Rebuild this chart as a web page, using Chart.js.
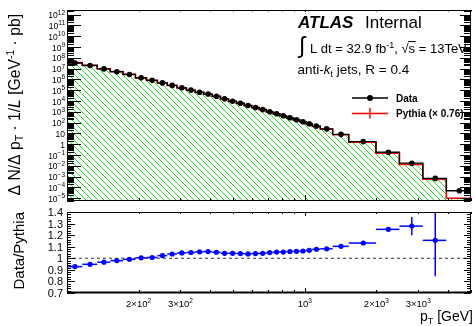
<!DOCTYPE html>
<html>
<head>
<meta charset="utf-8">
<script src="https://cdn.jsdelivr.net/npm/chart.js@4.4.1/dist/chart.umd.min.js"></script>
<style>
  html, body { margin: 0; padding: 0; background: #fff; }
  #wrap { position: relative; width: 475px; height: 326px; overflow: hidden; background: #fff; }
  canvas { position: absolute; left: 0; }
  #spectrum { top: 0; }
  #ratio { top: 205px; }
</style>
</head>
<body>
<div id="wrap">
  <canvas id="spectrum" width="475" height="205"></canvas>
  <canvas id="ratio" width="475" height="121"></canvas>
</div>
<script>
// Jet pT bin edges [GeV]
const binEdges = [100, 116, 134, 152, 172, 194, 216, 240, 264, 290, 318, 346, 376, 408, 442,
  478, 516, 556, 598, 642, 688, 736, 786, 838, 894, 952, 1012, 1076, 1162, 1310, 1530,
  1992, 2500, 3137, 3937, 5000];

// Measured spectrum, dN/dpT / L [pb/GeV]
const dataXsec = [3.33e7, 1.96e7, 9.53e6, 5.26e6, 2.90e6, 1.41e6, 8.32e5, 4.79e5, 2.82e5,
  1.69e5, 1.04e5, 6.53e4, 4.46e4, 2.80e4, 1.61e4, 9.68e3, 6.34e3, 3.89e3, 2.55e3, 1.67e3,
  1.02e3, 670, 439, 287, 187, 123, 80.4, 48.3, 26.7, 8.32, 1.77, 0.183, 0.0178, 6.93e-4, 5.0e-5];

// Pythia prediction, scaled by pythiaScale [pb/GeV]
const pythiaXsec = [3.59e7, 2.07e7, 9.87e6, 5.37e6, 2.93e6, 1.40e6, 8.26e5, 4.68e5, 2.72e5,
  1.62e5, 9.90e4, 6.18e4, 4.22e4, 2.66e4, 1.54e4, 9.28e3, 6.09e3, 3.75e3, 2.45e3, 1.60e3,
  972, 636, 417, 271, 176, 116, 75.2, 44.8, 24.7, 7.54, 1.56, 0.146, 0.0139, 6.0e-4, 1.0e-5];
const pythiaScale = 0.76;

// Data / Pythia ratio and its uncertainty (first 34 bins)
const ratioVals = [0.928, 0.948, 0.966, 0.980, 0.991, 1.004, 1.007, 1.023, 1.037, 1.046, 1.050,
  1.056, 1.058, 1.052, 1.043, 1.043, 1.041, 1.038, 1.041, 1.043, 1.049, 1.054, 1.054, 1.058,
  1.060, 1.063, 1.069, 1.078, 1.082, 1.103, 1.132, 1.250, 1.278, 1.155];
const ratioErr = [0.003, 0.003, 0.003, 0.003, 0.003, 0.003, 0.003, 0.003, 0.003, 0.003, 0.003,
  0.003, 0.003, 0.003, 0.003, 0.003, 0.003, 0.003, 0.003, 0.003, 0.003, 0.003, 0.003, 0.003,
  0.003, 0.004, 0.004, 0.004, 0.004, 0.005, 0.008, 0.020, 0.078, 0.310];

// Axis tick labels
const xTickLabels = [[200, '2', 2], [300, '3', 2], [1000, '', 3], [2000, '2', 3], [3000, '3', 3]];
const ySpecExponents = [-5, -4, -3, -2, -1, 0, 1, 2, 3, 4, 5, 6, 7, 8, 9, 10, 11, 12];
const yRatioTicks = [0.7, 0.8, 0.9, 1.0, 1.1, 1.2, 1.3, 1.4];

const X_MIN = 100, X_MAX = 5000;
const SPEC_MIN = Math.pow(10, -5.25), SPEC_MAX = Math.pow(10, 12.43);
const RATIO_MIN = 0.7, RATIO_MAX = 1.4;

const FAM = "'Liberation Sans', Arial, Helvetica, sans-serif";
const fnt = (size, weight, style) => `${style || 'normal'} ${weight || 'normal'} ${size}px ${FAM}`;

// Draw a run of text pieces (for super/subscripts, italics)
function drawRich(ctx, parts, x, y, align) {
  let w = 0;
  for (const p of parts) {
    ctx.font = fnt(p.size, p.weight, p.style);
    p.w = ctx.measureText(p.t).width;
    w += p.w + (p.dx || 0);
  }
  let cx = align === 'right' ? x - w : align === 'center' ? x - w / 2 : x;
  ctx.textAlign = 'left';
  ctx.textBaseline = 'alphabetic';
  for (const p of parts) {
    ctx.font = fnt(p.size, p.weight, p.style);
    cx += (p.dx || 0);
    ctx.fillText(p.t, cx, y + (p.dy || 0));
    cx += p.w;
  }
  return w;
}

const binCenter = i => 0.5 * (binEdges[i] + binEdges[i + 1]);

// Step outline of a histogram, starting from the bottom of the axis
function stepPoints(values, floor) {
  const pts = [{ x: binEdges[0], y: floor }];
  values.forEach((v, i) => {
    pts.push({ x: binEdges[i], y: v });
    pts.push({ x: binEdges[i + 1], y: v });
  });
  return pts;
}

function hatchPattern(ctx) {
  const s = 6;
  const c = document.createElement('canvas');
  c.width = s; c.height = s;
  const g = c.getContext('2d');
  g.strokeStyle = '#1fe01f';
  g.lineWidth = 1;
  g.beginPath();
  g.moveTo(0, 0); g.lineTo(s, s);
  g.moveTo(-1, s - 1); g.lineTo(1, s + 1);
  g.moveTo(s - 1, -1); g.lineTo(s + 1, 1);
  g.stroke();
  return ctx.createPattern(c, 'repeat');
}

function logTickList(min, max) {
  const out = [];
  for (let e = Math.floor(Math.log10(min)); e <= Math.ceil(Math.log10(max)); e++) {
    for (let m = 1; m < 10; m++) {
      const v = m * Math.pow(10, e);
      if (v >= min * 0.9999 && v <= max * 1.0001) out.push({ v, major: m === 1 });
    }
  }
  return out;
}

function line(ctx, x1, y1, x2, y2) {
  ctx.beginPath(); ctx.moveTo(x1, y1); ctx.lineTo(x2, y2); ctx.stroke();
}

function drawXTicks(ctx, xs, area, topLen, botLen) {
  ctx.strokeStyle = '#000';
  ctx.lineWidth = 1;
  for (const t of logTickList(X_MIN, X_MAX)) {
    const px = Math.round(xs.getPixelForValue(t.v)) + 0.5;
    const [lt, lb] = t.major ? [topLen[0], botLen[0]] : [topLen[1], botLen[1]];
    line(ctx, px, area.bottom, px, area.bottom - lb);
    line(ctx, px, area.top, px, area.top + lt);
  }
}

function frame(ctx, area, w) {
  ctx.strokeStyle = '#000';
  ctx.lineWidth = w || 1;
  ctx.strokeRect(Math.round(area.left) + 0.5, Math.round(area.top) + 0.5,
    Math.round(area.right - area.left) - 1, Math.round(area.bottom - area.top) - 1);
}

// Axes, frame, titles and legend for the spectrum panel
const spectrumDecor = {
  id: 'spectrumDecor',
  afterDraw(chart) {
    const ctx = chart.ctx, a = chart.chartArea;
    const xs = chart.scales.x, ys = chart.scales.y;
    ctx.save();
    // y ticks: inward on both sides
    ctx.strokeStyle = '#000';
    ctx.lineWidth = 1;
    for (const t of logTickList(SPEC_MIN, SPEC_MAX)) {
      const py = Math.round(ys.getPixelForValue(t.v)) + 0.5;
      line(ctx, a.left, py, a.left + (t.major ? 14 : 7), py);
      line(ctx, a.right, py, a.right - (t.major ? 11 : 7), py);
    }
    drawXTicks(ctx, xs, a, [2, 1.5], [6, 3]);
    frame(ctx, a, 1);

    // y tick labels 10^n
    ctx.fillStyle = '#000';
    for (const e of ySpecExponents) {
      const py = ys.getPixelForValue(Math.pow(10, e));
      let parts;
      if (e === 0) parts = [{ t: '1', size: 8.5 }];
      else if (e === 1) parts = [{ t: '10', size: 8.5 }];
      else parts = [{ t: '10', size: 8.5 }, { t: String(e).replace('-', '\u2212'), size: 6.5, dy: -3.5 }];
      drawRich(ctx, parts, 65, py + 3.5, 'right');
    }

    // y title, rotated
    ctx.save();
    ctx.translate(19.5, 14);
    ctx.rotate(-Math.PI / 2);
    drawRich(ctx, [
      { t: '\u0394 N/\u0394 p', size: 15.7 },
      { t: 'T', size: 10.5, dy: 3 },
      { t: ' \u00b7 1/', size: 15.7 },
      { t: 'L', size: 15.7, style: 'italic' },
      { t: ' [GeV', size: 15.7 },
      { t: '-1', size: 10.5, dy: -6 },
      { t: ' \u00b7 pb]', size: 15.7 }
    ], 0, 0, 'right');
    ctx.restore();

    // ATLAS label
    drawRich(ctx, [{ t: 'ATLAS', size: 17, weight: 'bold', style: 'italic' }], 298, 27.5);
    drawRich(ctx, [{ t: 'Internal', size: 17 }], 365, 27.5);

    // luminosity and energy
    ctx.font = fnt(23);
    ctx.fillText('\u222b', 299, 53);
    const wLum = drawRich(ctx, [
      { t: 'L dt = 32.9 fb', size: 13 },
      { t: '-1', size: 9, dy: -5 },
      { t: ', ', size: 13 }
    ], 310, 52.5);
    const sx = 310 + wLum;
    ctx.font = fnt(13);
    ctx.fillText('\u221a', sx, 52.5);
    const wr = ctx.measureText('\u221a').width;
    ctx.fillText('s', sx + wr, 52.5);
    const ws = ctx.measureText('s').width;
    ctx.lineWidth = 1;
    line(ctx, sx + wr - 0.5, 41.5, sx + wr + ws + 0.5, 41.5);
    drawRich(ctx, [{ t: ' = 13TeV', size: 13 }], sx + wr + ws, 52.5);

    // jet definition
    drawRich(ctx, [
      { t: 'anti-', size: 13.5 },
      { t: 'k', size: 13.5, style: 'italic' },
      { t: 't', size: 9, dy: 3 },
      { t: ' jets, R = 0.4', size: 13.5 }
    ], 297.5, 73.5);

    // legend
    ctx.strokeStyle = '#000';
    ctx.lineWidth = 1.5;
    line(ctx, 352, 98, 388, 98);
    ctx.fillStyle = '#000';
    ctx.beginPath(); ctx.arc(370, 98, 3, 0, Math.PI * 2); ctx.fill();
    ctx.strokeStyle = '#ff0000';
    line(ctx, 352, 113.5, 388, 113.5);
    line(ctx, 370, 108, 370, 118.5);
    ctx.fillStyle = '#000';
    drawRich(ctx, [{ t: 'Data', size: 10, weight: 'bold' }], 396, 101.5);
    drawRich(ctx, [{ t: 'Pythia (\u00d7 ' + pythiaScale.toFixed(2) + ')', size: 10, weight: 'bold' }], 396, 116.5);
    ctx.restore();
  }
};

// Axes, frame, error bars and titles for the ratio panel
const ratioDecor = {
  id: 'ratioDecor',
  afterDatasetsDraw(chart) {
    const ctx = chart.ctx, a = chart.chartArea;
    const xs = chart.scales.x, ys = chart.scales.y;
    ctx.save();
    ctx.beginPath();
    ctx.rect(a.left, a.top, a.right - a.left, a.bottom - a.top);
    ctx.clip();
    ctx.strokeStyle = '#0000ff';
    ctx.lineWidth = 1.5;
    ratioVals.forEach((r, i) => {
      const py = ys.getPixelForValue(r);
      const cx = xs.getPixelForValue(binCenter(i));
      line(ctx, xs.getPixelForValue(binEdges[i]), py, xs.getPixelForValue(binEdges[i + 1]), py);
      line(ctx, cx, ys.getPixelForValue(r - ratioErr[i]), cx, ys.getPixelForValue(r + ratioErr[i]));
    });
    ctx.restore();
  },
  afterDraw(chart) {
    const ctx = chart.ctx, a = chart.chartArea;
    const xs = chart.scales.x, ys = chart.scales.y;
    ctx.save();
    ctx.strokeStyle = '#000';
    ctx.lineWidth = 1;
    for (let k = 0; k <= 35; k++) {
      const v = RATIO_MIN + k * 0.02;
      const major = k % 5 === 0;
      const py = Math.round(ys.getPixelForValue(v)) + 0.5;
      line(ctx, a.left, py, a.left + (major ? 8 : 4), py);
      line(ctx, a.right, py, a.right - (major ? 7 : 4), py);
    }
    drawXTicks(ctx, xs, a, [4, 2], [5, 3]);
    frame(ctx, a, 1);
    ctx.lineWidth = 2;
    line(ctx, a.left, a.bottom - 0.5, a.right, a.bottom - 0.5);

    ctx.fillStyle = '#000';
    for (const v of yRatioTicks) {
      const py = ys.getPixelForValue(v);
      const txt = Number.isInteger(v) ? String(v) : v.toFixed(1);
      drawRich(ctx, [{ t: txt, size: 11 }], 63, py + 4, 'right');
    }
    for (const [v, m, e] of xTickLabels) {
      const px = xs.getPixelForValue(v);
      const parts = [];
      if (m) parts.push({ t: m + '\u00d7', size: 9.5 });
      parts.push({ t: '10', size: 9.5 });
      parts.push({ t: String(e), size: 6.5, dy: -4 });
      drawRich(ctx, parts, px, 101.5, 'center');
    }

    ctx.save();
    ctx.translate(24, 7);
    ctx.rotate(-Math.PI / 2);
    drawRich(ctx, [{ t: 'Data/Pythia', size: 15 }], 0, 0, 'right');
    ctx.restore();

    drawRich(ctx, [
      { t: 'p', size: 14 },
      { t: 'T', size: 9, dy: 3 },
      { t: ' [GeV]', size: 14 }
    ], 473, 115.5, 'right');
    ctx.restore();
  }
};

const specCtx = document.getElementById('spectrum').getContext('2d');
new Chart(specCtx, {
  type: 'line',
  data: {
    datasets: [
      {
        label: 'Data',
        data: dataXsec.map((v, i) => ({ x: binCenter(i), y: v })),
        showLine: false,
        pointRadius: 2.8,
        pointBackgroundColor: '#000',
        pointBorderWidth: 0,
        order: 0
      },
      {
        label: 'Data hist',
        data: stepPoints(dataXsec, SPEC_MIN),
        borderColor: '#000',
        borderWidth: 1.3,
        pointRadius: 0,
        fill: false,
        order: 1
      },
      {
        label: 'Pythia',
        data: stepPoints(pythiaXsec, SPEC_MIN),
        borderColor: '#ff0000',
        borderWidth: 1.6,
        pointRadius: 0,
        fill: 'start',
        backgroundColor: hatchPattern(specCtx),
        order: 2
      }
    ]
  },
  options: {
    responsive: false,
    animation: false,
    layout: { padding: { left: 67, right: 2, top: 10, bottom: 3 } },
    plugins: { legend: { display: false }, tooltip: { enabled: false } },
    scales: {
      x: { type: 'logarithmic', min: X_MIN, max: X_MAX, display: false },
      y: { type: 'logarithmic', min: SPEC_MIN, max: SPEC_MAX, display: false }
    }
  },
  plugins: [spectrumDecor]
});

new Chart(document.getElementById('ratio').getContext('2d'), {
  type: 'line',
  data: {
    datasets: [
      {
        label: 'Data/Pythia',
        data: ratioVals.map((r, i) => ({ x: binCenter(i), y: r })),
        showLine: false,
        pointRadius: 2.6,
        pointBackgroundColor: '#0000ff',
        pointBorderWidth: 0,
        order: 0
      },
      {
        label: 'unity',
        data: [{ x: X_MIN, y: 1 }, { x: X_MAX, y: 1 }],
        borderColor: '#555',
        borderWidth: 1.2,
        borderDash: [3, 3],
        pointRadius: 0,
        fill: false,
        order: 1
      }
    ]
  },
  options: {
    responsive: false,
    animation: false,
    layout: { padding: { left: 67, right: 2, top: 7, bottom: 33 } },
    plugins: { legend: { display: false }, tooltip: { enabled: false } },
    scales: {
      x: { type: 'logarithmic', min: X_MIN, max: X_MAX, display: false },
      y: { type: 'linear', min: RATIO_MIN, max: RATIO_MAX, display: false }
    }
  },
  plugins: [ratioDecor]
});
</script>
</body>
</html>
